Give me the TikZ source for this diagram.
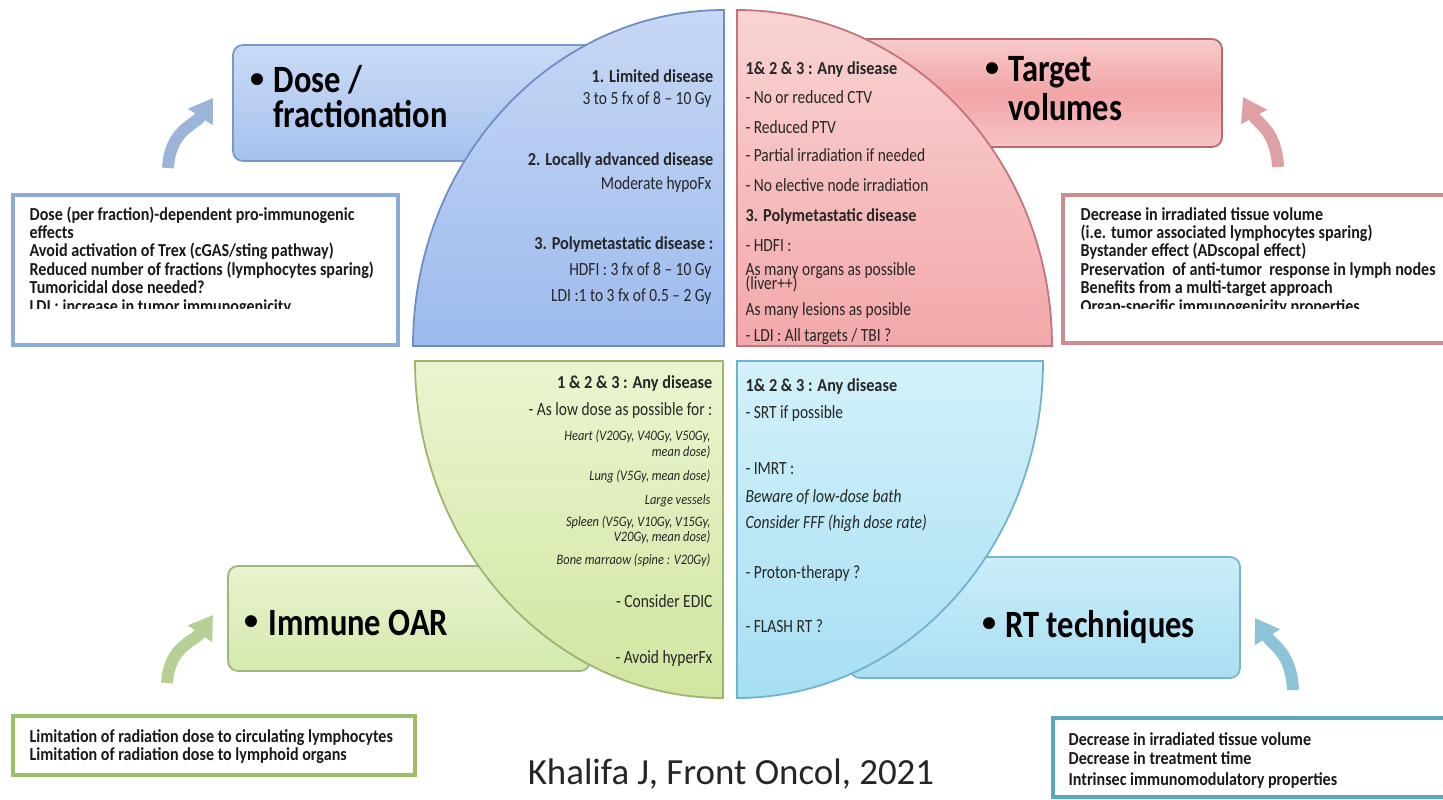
\documentclass[tikz,border=0pt]{standalone}
\usepackage{fontspec}
\setmainfont{Carlito}
\usetikzlibrary{arrows.meta}
\definecolor{qtxt}{HTML}{262626}
\definecolor{bqT}{HTML}{C7D8F4}\definecolor{bqB}{HTML}{9DBAEE}\definecolor{bqL}{HTML}{6F8DC5}
\definecolor{rqT}{HTML}{F9D3D3}\definecolor{rqB}{HTML}{F3A8AA}\definecolor{rqL}{HTML}{C47478}
\definecolor{gqT}{HTML}{EAF5D0}\definecolor{gqB}{HTML}{D0E6A0}\definecolor{gqL}{HTML}{9BB56E}
\definecolor{cqT}{HTML}{D3F1FA}\definecolor{cqB}{HTML}{A6DFF3}\definecolor{cqL}{HTML}{6FB2CE}
\definecolor{dbT}{HTML}{C9DAF5}\definecolor{dbB}{HTML}{A7C2EF}\definecolor{dbL}{HTML}{7A97C8}
\definecolor{tbT}{HTML}{F8CBCC}\definecolor{tbM}{HTML}{F2A4A6}\definecolor{tbB}{HTML}{F8C4C5}\definecolor{tbL}{HTML}{B56B6E}
\definecolor{ibT}{HTML}{E7F3CD}\definecolor{ibB}{HTML}{D5E9AE}\definecolor{ibL}{HTML}{9FB67A}
\definecolor{rbT}{HTML}{CAEDF9}\definecolor{rbB}{HTML}{A9DFF2}\definecolor{rbL}{HTML}{7AB4CB}
\definecolor{lbx}{HTML}{8EABD8}\definecolor{rbx}{HTML}{CF8C8F}\definecolor{gbx}{HTML}{9DBD68}\definecolor{cbx}{HTML}{5BA6C6}
\definecolor{arB}{HTML}{9BB5D9}\definecolor{arR}{HTML}{DEA0A3}\definecolor{arG}{HTML}{B5CF94}\definecolor{arC}{HTML}{8CC3D6}
\begin{document}
\begin{tikzpicture}[x=0.1mm,y=-0.1mm,
 ttl/.style={font=\fontsize{11}{11}\selectfont\bfseries, xscale=0.84, inner sep=0, anchor=base west, text=black},
 bul/.style={font=\fontsize{8}{8}\selectfont\bfseries, inner sep=0, anchor=center, text=black},
 qb/.style={font=\fontsize{5.2}{5.2}\selectfont\bfseries, xscale=0.89, inner sep=0, text=qtxt},
 qr/.style={font=\fontsize{5.3}{5.3}\selectfont, xscale=0.83, inner sep=0, text=qtxt},
 qi/.style={font=\fontsize{4.1}{4.1}\selectfont\itshape, xscale=0.86, inner sep=0, text=qtxt},
 qri/.style={font=\fontsize{5.3}{5.3}\selectfont\itshape, xscale=0.83, inner sep=0, text=qtxt},
 qe/.style={anchor=base east}, qw/.style={anchor=base west},
 bx/.style={font=\fontsize{5.2}{5.2}\selectfont\bfseries, xscale=0.88, inner sep=0, anchor=base west, text=black!90},
 arr/.style={line width=3.4pt, -{Triangle[width=8pt,length=6.5pt]}},
 tbox/.style={rounded corners=1mm, line width=0.5pt},
 quad/.style={line width=0.5pt},
 wbox/.style={fill=white, line width=0.9pt},
]
\useasboundingbox (0,0) rectangle (1443,799);
\clip (0,0) rectangle (1443,799);
\fill[white] (0,0) rectangle (1443,799);

% curved arrows
\coordinate (ab1) at (168,168); \coordinate (ab2) at (213,98);
\draw[arr, arB] (ab1) .. controls (170,130) and (195,125) .. (ab2);
\coordinate (ar1) at (1278,167); \coordinate (ar2) at (1243,97);
\draw[arr, arR] (ar1) .. controls (1276,130) and (1258,124) .. (ar2);
\coordinate (ag1) at (167,683); \coordinate (ag2) at (213,615);
\draw[arr, arG] (ag1) .. controls (169,646) and (195,641) .. (ag2);
\coordinate (ac1) at (1293,690); \coordinate (ac2) at (1255,618);
\draw[arr, arC] (ac1) .. controls (1291,652) and (1273,646) .. (ac2);

% title boxes
\draw[tbox, draw=dbL, top color=dbT, bottom color=dbB] (233,45) rectangle (650,161);
\draw[tbox, draw=tbL, top color=tbT, bottom color=tbB, middle color=tbM] (800,39) rectangle (1222,147);
\draw[tbox, draw=ibL, top color=ibT, bottom color=ibB] (228,566) rectangle (590,671);
\draw[tbox, draw=rbL, top color=rbT, bottom color=rbB] (850,557) rectangle (1240,678);

% quadrants
\draw[quad, draw=bqL, top color=bqT, bottom color=bqB]
  (724,10) -- (724,346) -- (413,346) .. controls (413,160.4) and (552.8,10) .. (724,10) -- cycle;
\draw[quad, draw=rqL, top color=rqT, bottom color=rqB]
  (737,10) -- (737,346) -- (1052,346) .. controls (1052,160.4) and (911,10) .. (737,10) -- cycle;
\draw[quad, draw=gqL, top color=gqT, bottom color=gqB]
  (723,361) -- (415,361) .. controls (415,547.1) and (552.9,698) .. (723,698) -- cycle;
\draw[quad, draw=cqL, top color=cqT, bottom color=cqB]
  (737,361) -- (1043,361) .. controls (1043,547.1) and (906,698) .. (737,698) -- cycle;

% blue quadrant text
\node[qb,qe] (b1) at (714,83) {1. Limited disease};
\node[qr,qe] (b2) at (712,105) {3 to 5 fx of 8 – 10 Gy};
\node[qb,qe] (b3) at (714,165) {2. Locally advanced disease};
\node[qr,qe] (b4) at (712,189) {Moderate hypoFx};
\node[qb,qe] (b5) at (714,249) {3. Polymetastatic disease :};
\node[qr,qe] (b6) at (712,275) {HDFI : 3 fx of 8 – 10 Gy};
\node[qr,qe] (b7) at (712,301) {LDI :1 to 3 fx of 0.5 – 2 Gy};

% red quadrant text
\node[qb,qw] (r1) at (745,75) {1\& 2 \& 3 : Any disease};
\node[qr,qw] (r2) at (745,103) {- No or reduced CTV};
\node[qr,qw] (r3) at (745,133) {- Reduced PTV};
\node[qr,qw] (r4) at (745,162) {- Partial irradiation if needed};
\node[qr,qw] (r5) at (745,191) {- No elective node irradiation};
\node[qb,qw] (r6) at (745,221) {3. Polymetastatic disease};
\node[qr,qw] (r7) at (745,251) {- HDFI :};
\node[qr,qw] (r8) at (745,275) {As many organs as possible};
\node[qr,qw] (r9) at (745,289) {(liver++)};
\node[qr,qw] (r10) at (745,315) {As many lesions as posible};
\node[qr,qw] (r11) at (745,341) {- LDI : All targets / TBI ?};

% green quadrant text
\node[qb,qe] (g1) at (713,388) {1 \& 2 \& 3 : Any disease};
\node[qr,qe] (g2) at (713,415) {- As low dose as possible for :};
\node[qi,qe] (g3) at (711,440) {Heart (V20Gy, V40Gy, V50Gy,};
\node[qi,qe] (g4) at (711,456) {mean dose)};
\node[qi,qe] (g5) at (711,480) {Lung (V5Gy, mean dose)};
\node[qi,qe] (g6) at (711,504) {Large vessels};
\node[qi,qe] (g7) at (711,526) {Spleen (V5Gy, V10Gy, V15Gy,};
\node[qi,qe] (g8) at (711,541) {V20Gy, mean dose)};
\node[qi,qe] (g9) at (711,564) {Bone marraow (spine : V20Gy)};
\node[qr,qe] (g10) at (713,607) {- Consider EDIC};
\node[qr,qe] (g11) at (713,663) {- Avoid hyperFx};

% cyan quadrant text
\node[qb,qw] (c1) at (745,391) {1\& 2 \& 3 : Any disease};
\node[qr,qw] (c2) at (745,418) {- SRT if possible};
\node[qr,qw] (c3) at (745,474) {- IMRT :};
\node[qri,qw] (c4) at (745,502) {Beware of low-dose bath};
\node[qri,qw] (c5) at (745,528) {Consider FFF (high dose rate)};
\node[qr,qw] (c6) at (745,578) {- Proton-therapy ?};
\node[qr,qw] (c7) at (745,632) {- FLASH RT ?};

% titles
\node[bul] (dbul) at (257,81) {•};
\node[ttl] (dt1) at (273,93) {Dose /};
\node[ttl] (dt2) at (273,128) {fractionation};
\node[bul] (tbul) at (992,70) {•};
\node[ttl] (tt1) at (1008,82) {Target};
\node[ttl] (tt2) at (1008,120) {volumes};
\node[bul] (ibul) at (251,623) {•};
\node[ttl] (it1) at (268,635) {Immune OAR};
\node[bul] (rbul) at (989,625) {•};
\node[ttl] (rt1) at (1005,637) {RT techniques};

% white text boxes
\draw[wbox, draw=lbx] (13,195) rectangle (398,345);
\begin{scope}
\clip (13,195) rectangle (398,308);
\foreach \t [count=\i] in {{Dose (per fraction)-dependent pro-immunogenic},{effects},{Avoid activation of Trex (cGAS/sting pathway)},{Reduced number of fractions (lymphocytes sparing)},{Tumoricidal dose needed?},{LDI : increase in tumor immunogenicity}}
  \node[bx] (lt\i) at (29,{220+18.4*(\i-1)}) {\t};
\end{scope}

\draw[wbox, draw=rbx] (1063,195) rectangle (1470,343);
\begin{scope}
\clip (1063,195) rectangle (1443,308);
\foreach \t [count=\i] in {{Decrease in irradiated tissue volume},{(i.e. tumor associated lymphocytes sparing)},{Bystander effect (ADscopal effect)},{Preservation\ \ of anti-tumor\ \ response in lymph nodes},{Benefits from a multi-target approach},{Organ-specific immunogenicity properties}}
  \node[bx] (rtx\i) at (1080,{220+18.4*(\i-1)}) {\t};
\end{scope}

\draw[wbox, draw=gbx] (13,716) rectangle (415,775);
\node[bx] (gt1) at (29,742) {Limitation of radiation dose to circulating lymphocytes};
\node[bx] (gt2) at (29,760) {Limitation of radiation dose to lymphoid organs};

\draw[wbox, draw=cbx] (1053,718) rectangle (1470,797);
\node[bx] (ct1) at (1068,745) {Decrease in irradiated tissue volume};
\node[bx] (ct2) at (1068,764) {Decrease in treatment time};
\node[bx] (ct3) at (1068,785) {Intrinsec immunomodulatory properties};

% citation
\node[font=\fontsize{10.5}{10.5}\selectfont, text=black!85, anchor=base, inner sep=0] (cite) at (731,784) {Khalifa J, Front Oncol, 2021};
\end{tikzpicture}
\end{document}
